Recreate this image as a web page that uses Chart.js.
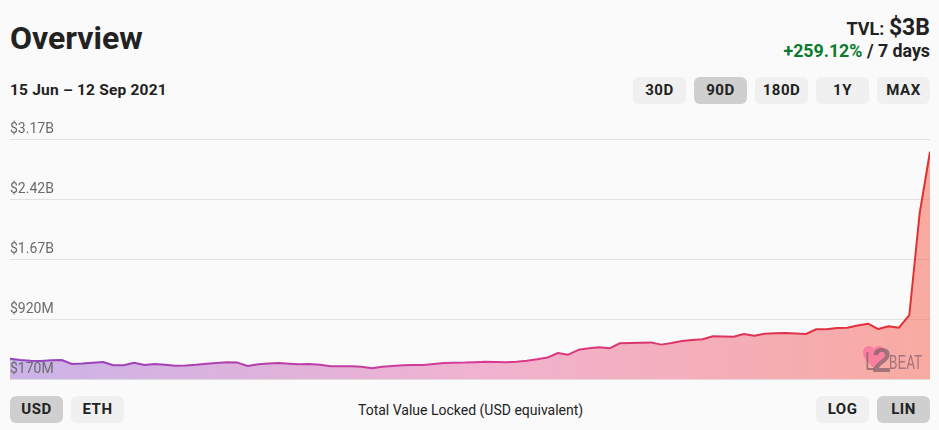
<!DOCTYPE html>
<html><head><meta charset="utf-8">
<style>
html,body{margin:0;padding:0;background:#fafafa;width:939px;height:430px;overflow:hidden}
body{font-family:Roboto,sans-serif;color:#222;position:relative}
.a{position:absolute;white-space:nowrap}
.btn{position:absolute;width:53px;height:27px;line-height:27px;text-align:center;border-radius:6px;background:#f0f0f0;font-weight:700;font-size:15px;letter-spacing:.5px;color:#222}
.btn.on{background:#cfcfcf}
#c{position:absolute;left:10px;top:115px}
#logo{position:absolute;left:862px;top:345px;width:62px;height:28px;pointer-events:none}
#logo svg{position:absolute;left:0;top:0}
#logo span{position:absolute;color:#86606c;opacity:.75;font-family:"Liberation Sans",sans-serif}
</style></head><body>
<div class="a" id="title" style="left:10px;top:19px;font-size:32px;font-weight:700;line-height:38px"></div>
<div class="a" id="range" style="left:10px;top:81px;font-size:15.500px;font-weight:700;line-height:18px;letter-spacing:.2px"></div>
<div class="a" style="right:9px;top:14px;line-height:28px;font-weight:700;font-size:18px"><span id="tvlL"></span> <span id="tvlV" style="font-size:23px"></span></div>
<div class="a" style="right:9px;top:41px;line-height:20px;font-weight:700;font-size:17.800px"><span id="chg" style="color:#0a7a2c"></span> <span id="per"></span></div>
<canvas id="c" width="920" height="275" style="width:920px;height:275px"></canvas>
<div id="logo">
<svg width="24" height="24" viewBox="0 0 24 24"><path d="M12 23C4 16 1 12 1 7.500C1 3.500 4 1 7 1C9 1 11 2 12 4C13 2 15 1 17 1C20 1 23 3.500 23 7.500C23 12 20 16 12 23Z" fill="#f97f9f"/></svg>
<span style="left:3px;top:3px;font-size:26px;line-height:26px;transform:scaleX(.7);transform-origin:left top">L</span>
<span style="left:10px;top:-3px;font-size:35px;line-height:35px;font-weight:700">2</span>
<span style="left:27px;top:6px;font-size:21px;line-height:21px;letter-spacing:.5px;transform:scaleX(.6);transform-origin:left top">BEAT</span>
</div>
<div class="a" id="sub" style="left:358px;top:402px;font-size:14px;line-height:16px"></div>
<script src="https://cdn.jsdelivr.net/npm/chart.js@4"></script>
<script>
const titleText = "Overview";
const rangeText = "15 Jun – 12 Sep 2021";
const tvlLabel = "TVL:";
const tvlValue = "$3B";
const changeText = "+259.12%";
const periodText = "/ 7 days";
const subtitleText = "Total Value Locked (USD equivalent)";
const rangeButtons = ["30D","90D","180D","1Y","MAX"];
const unitButtons = ["USD","ETH"];
const scaleButtons = ["LOG","LIN"];
const yTickValues = [170,920,1670,2420,3170];
const yTickLabels = ["$170M","$920M","$1.67B","$2.42B","$3.17B"];
// TVL in millions of USD, one per day
const tvlSeries = [430,414,404,401,411,414,364,370,380,389,348,348,379,351,364,354,343,346,354,366,376,385,381,339,361,369,376,368,360,364,355,336,335,335,330,310,329,339,349,351,351,364,376,379,381,386,393,389,386,391,405,423,444,501,480,541,560,573,560,623,626,630,634,606,626,651,664,674,710,708,705,739,718,741,748,751,745,739,798,798,814,818,844,868,801,835,818,976,2248,3018];
const dayLabels = tvlSeries.map((_,i)=>String(i+1));
const lineStops = ["#8f45c0","#d63a96","#e2302c"];
const fillStops = ["rgba(126,65,204,.38)","rgba(226,80,150,.42)","rgba(248,85,65,.48)"];

document.getElementById("title").textContent=titleText;
document.getElementById("range").textContent=rangeText;
document.getElementById("tvlL").textContent=tvlLabel;
document.getElementById("tvlV").textContent=tvlValue;
document.getElementById("chg").textContent=changeText;
document.getElementById("per").textContent=periodText;
document.getElementById("sub").textContent=subtitleText;
function addBtn(t,l,top,on){const d=document.createElement("div");d.className="btn"+(on?" on":"");d.textContent=t;d.style.left=l+"px";d.style.top=top+"px";document.body.appendChild(d);}
rangeButtons.forEach((t,i)=>addBtn(t,633+61*i,77,t==="90D"));
unitButtons.forEach((t,i)=>addBtn(t,10+61*i,396,t==="USD"));
scaleButtons.forEach((t,i)=>addBtn(t,816+61*i,396,t==="LIN"));

function grad(ctx,stops){
  const a=ctx.chart.chartArea; if(!a) return stops[0];
  const g=ctx.chart.ctx.createLinearGradient(a.left,0,a.right,0);
  stops.forEach((s,i)=>g.addColorStop(i/(stops.length-1),s));
  return g;
}
new Chart(document.getElementById("c"),{
  type:"line",
  data:{labels:dayLabels,datasets:[{
    data:tvlSeries,
    borderColor:c=>grad(c,lineStops),
    backgroundColor:c=>grad(c,fillStops),
    borderWidth:2,pointRadius:0,tension:0,fill:"start",borderJoinStyle:"round"
  }]},
  options:{
    responsive:false,animation:false,devicePixelRatio:1,
    layout:{padding:{top:24.500,bottom:10.500,left:0,right:0}},
    plugins:{legend:{display:false},tooltip:{enabled:false}},
    scales:{
      x:{display:false,offset:false},
      y:{min:170,max:3170,
        afterBuildTicks:s=>{s.ticks=yTickValues.map(v=>({value:v}));},
        border:{display:false},
        grid:{color:"#e2e2e2",lineWidth:1,drawTicks:false},
        ticks:{mirror:true,padding:0,z:1,labelOffset:-10,color:"#6b6b6b",font:{family:"Roboto",size:14},
          callback:v=>yTickLabels[yTickValues.indexOf(v)]}
      }
    }
  }
});
</script>
</body></html>
